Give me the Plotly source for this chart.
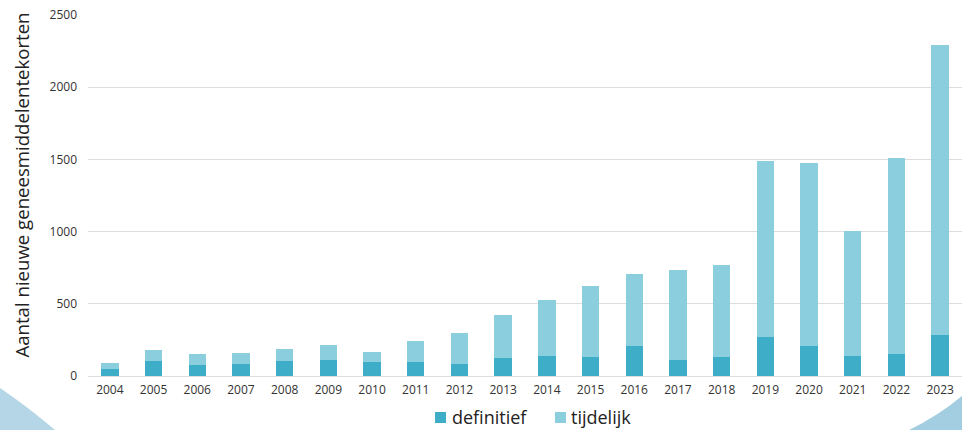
import plotly.graph_objects as go

years = ["2004", "2005", "2006", "2007", "2008", "2009", "2010", "2011", "2012", "2013",
         "2014", "2015", "2016", "2017", "2018", "2019", "2020", "2021", "2022", "2023"]
definitief = [48, 102, 74, 83, 102, 111, 95, 95, 83, 123,
              139, 130, 206, 111, 132, 271, 206, 141, 150, 282]
totaal = [93, 178, 150, 160, 187, 218, 169, 243, 301, 423,
          525, 620, 706, 731, 770, 1492, 1473, 1004, 1512, 2292]
tijdelijk = [t - d for t, d in zip(totaal, definitief)]

y_ticks = [0, 500, 1000, 1500, 2000, 2500]
series_names = ["definitief", "tijdelijk"]
y_title = "Aantal nieuwe geneesmiddelentekorten"

C_DEF = "#3eaec8"
C_TIJ = "#8bcedd"

W, H = 962, 430
L, R, T, B = 88, 0, 15, 54
PW, PH = W - L - R, H - T - B


def px(x, y):
    return (x - L) / PW, (H - B - y) / PH


fig = go.Figure()
fig.add_trace(go.Bar(x=years, y=definitief, name=series_names[0], showlegend=False,
                     marker=dict(color=C_DEF, line=dict(width=0))))
fig.add_trace(go.Bar(x=years, y=tijdelijk, name=series_names[1], showlegend=False,
                     marker=dict(color=C_TIJ, line=dict(width=0))))


def path(points):
    s = ""
    for cmd, pts in points:
        s += cmd + " " + " ".join("%f,%f" % px(*p) for p in pts) + " "
    return s + "Z"


shapes = [
    dict(type="path", xref="paper", yref="paper", layer="below",
         path=path([("M", [(0, 388)]), ("Q", [(28, 407), (55, 430)]), ("L", [(0, 430)])]),
         fillcolor="#b5d6e6", line=dict(width=0)),
    dict(type="path", xref="paper", yref="paper", layer="below",
         path=path([("M", [(909, 430)]), ("Q", [(938, 416), (962, 396)]), ("L", [(962, 430)])]),
         fillcolor="#a3cde1", line=dict(width=0)),
]

# manual legend (marker squares + text labels)
legend_items = [(435, 450, C_DEF), (555, 569, C_TIJ)]
annotations = []
for name, (mx, tx, col) in zip(series_names, legend_items):
    x0, y0 = px(mx, 423)
    x1, y1 = px(mx + 11, 412)
    shapes.append(dict(type="rect", xref="paper", yref="paper", x0=x0, x1=x1, y0=y0, y1=y1,
                       fillcolor=col, line=dict(width=0)))
    ax, ay = px(tx, 417)
    annotations.append(dict(text=name, xref="paper", yref="paper", x=ax, y=ay,
                            xanchor="left", yanchor="middle", showarrow=False,
                            font=dict(size=18, color="#222222")))

tx_, ty_ = px(21, 185.5)
annotations.append(dict(text=y_title, xref="paper", yref="paper", x=tx_, y=ty_,
                        xanchor="center", yanchor="middle", textangle=-90, showarrow=False,
                        font=dict(size=18.6, color="#222222")))

fig.update_layout(
    width=W, height=H,
    margin=dict(l=L, r=R, t=T, b=B, autoexpand=False),
    barmode="stack",
    bargap=0.6,
    showlegend=False,
    plot_bgcolor="white",
    paper_bgcolor="white",
    font=dict(family="Open Sans", color="#333333", size=12),
    shapes=shapes,
    annotations=annotations,
    xaxis=dict(
        type="category",
        range=[-0.5, 19.5],
        showgrid=False,
        showline=False,
        zeroline=False,
        ticks="",
        ticklabelstandoff=5,
        automargin=False,
        tickfont=dict(size=12, color="#333333"),
    ),
    yaxis=dict(
        range=[0, 2500],
        tickvals=y_ticks,
        ticktext=[str(v) for v in y_ticks],
        showgrid=True,
        gridcolor="#dddddd",
        gridwidth=1.2,
        zeroline=True,
        zerolinecolor="#dddddd",
        zerolinewidth=1.2,
        showline=False,
        ticks="",
        ticklabelstandoff=10,
        automargin=False,
        tickfont=dict(size=12, color="#333333"),
    ),
)

fig.write_html("out.html")
